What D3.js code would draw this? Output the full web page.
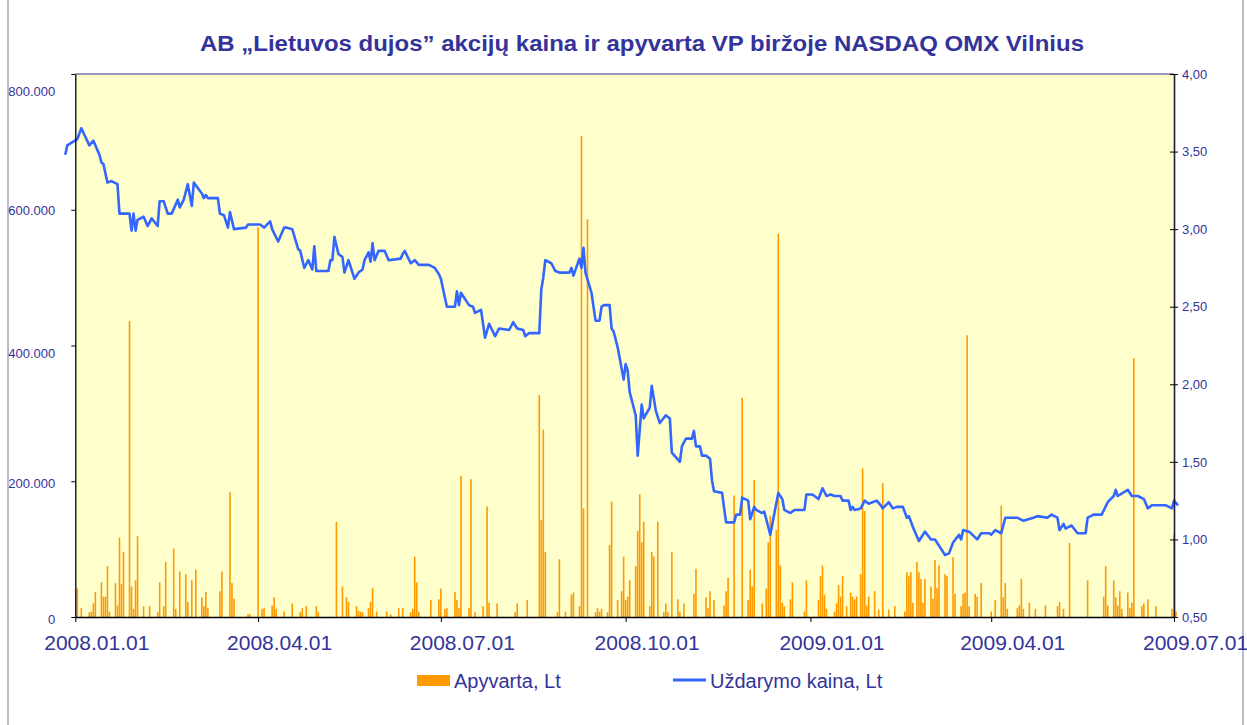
<!DOCTYPE html>
<html>
<head>
<meta charset="utf-8">
<script src="https://cdnjs.cloudflare.com/ajax/libs/d3/7.8.5/d3.min.js"></script>
<style>
  body { margin: 0; background: #fff; }
  svg { display: block; }
  text { font-family: Arial, "Liberation Sans", sans-serif; }
</style>
</head>
<body>
<script>
// closing price, Lt
let priceDates = [
  "2007-12-27","2007-12-28","2008-01-02","2008-01-04","2008-01-08","2008-01-10","2008-01-13","2008-01-14","2008-01-15","2008-01-17",
  "2008-01-19","2008-01-22","2008-01-23","2008-01-28","2008-01-29","2008-01-30","2008-01-31","2008-02-01","2008-02-04","2008-02-06",
  "2008-02-08","2008-02-11","2008-02-12","2008-02-14","2008-02-16","2008-02-18","2008-02-21","2008-02-22","2008-02-24","2008-02-26",
  "2008-02-28","2008-02-29","2008-03-04","2008-03-05","2008-03-06","2008-03-07","2008-03-12","2008-03-13","2008-03-15","2008-03-17",
  "2008-03-18","2008-03-20","2008-03-26","2008-03-27","2008-04-02","2008-04-04","2008-04-07","2008-04-08","2008-04-11","2008-04-14",
  "2008-04-15","2008-04-18","2008-04-21","2008-04-22","2008-04-24","2008-04-26","2008-04-28","2008-04-29","2008-04-30","2008-05-06",
  "2008-05-07","2008-05-08","2008-05-09","2008-05-11","2008-05-13","2008-05-14","2008-05-16","2008-05-19","2008-05-21","2008-05-23",
  "2008-05-24","2008-05-26","2008-05-27","2008-05-28","2008-05-29","2008-05-31","2008-06-03","2008-06-05","2008-06-11","2008-06-12",
  "2008-06-13","2008-06-16","2008-06-18","2008-06-20","2008-06-25","2008-06-28","2008-06-30","2008-07-01","2008-07-04","2008-07-08",
  "2008-07-09","2008-07-10","2008-07-11","2008-07-15","2008-07-17","2008-07-18","2008-07-21","2008-07-23","2008-07-25","2008-07-28",
  "2008-07-30","2008-08-04","2008-08-06","2008-08-08","2008-08-11","2008-08-12","2008-08-14","2008-08-19","2008-08-20","2008-08-21",
  "2008-08-22","2008-08-25","2008-08-27","2008-08-29","2008-09-03","2008-09-04","2008-09-05","2008-09-08","2008-09-09","2008-09-10",
  "2008-09-11","2008-09-14","2008-09-16","2008-09-18","2008-09-19","2008-09-20","2008-09-23","2008-09-24","2008-09-25","2008-09-27",
  "2008-09-30","2008-10-01","2008-10-02","2008-10-03","2008-10-06","2008-10-07","2008-10-09","2008-10-10","2008-10-13","2008-10-14",
  "2008-10-16","2008-10-18","2008-10-21","2008-10-23","2008-10-24","2008-10-28","2008-10-29","2008-10-31","2008-11-03","2008-11-04",
  "2008-11-05","2008-11-07","2008-11-08","2008-11-10","2008-11-12","2008-11-13","2008-11-14","2008-11-18","2008-11-20","2008-11-22",
  "2008-11-24","2008-11-25","2008-11-27","2008-11-28","2008-12-01","2008-12-02","2008-12-04","2008-12-05","2008-12-08","2008-12-09",
  "2008-12-12","2008-12-16","2008-12-18","2008-12-19","2008-12-22","2008-12-24","2008-12-29","2008-12-30","2009-01-02","2009-01-05",
  "2009-01-07","2009-01-09","2009-01-11","2009-01-13","2009-01-16","2009-01-17","2009-01-20","2009-01-21","2009-01-22","2009-01-23",
  "2009-01-26","2009-01-28","2009-01-30","2009-02-03","2009-02-05","2009-02-06","2009-02-09","2009-02-11","2009-02-13","2009-02-16",
  "2009-02-18","2009-02-19","2009-02-21","2009-02-22","2009-02-24","2009-02-27","2009-03-02","2009-03-04","2009-03-07","2009-03-09",
  "2009-03-11","2009-03-13","2009-03-16","2009-03-17","2009-03-18","2009-03-21","2009-03-25","2009-03-27","2009-03-31","2009-04-01",
  "2009-04-03","2009-04-06","2009-04-08","2009-04-14","2009-04-17","2009-04-22","2009-04-24","2009-04-29","2009-05-01","2009-05-04",
  "2009-05-05","2009-05-07","2009-05-08","2009-05-11","2009-05-14","2009-05-18","2009-05-19","2009-05-22","2009-05-26","2009-05-29",
  "2009-06-01","2009-06-02","2009-06-03","2009-06-08","2009-06-10","2009-06-13","2009-06-16","2009-06-18","2009-06-20","2009-06-27",
  "2009-06-30","2009-07-01","2009-07-03"
];
let priceValues = [
  3.48,3.54,3.58,3.65,3.54,3.57,3.48,3.43,3.42,3.30,
  3.31,3.29,3.10,3.10,2.99,3.10,2.99,3.06,3.08,3.02,
  3.07,3.02,3.18,3.18,3.10,3.10,3.19,3.14,3.19,3.29,
  3.15,3.30,3.23,3.20,3.22,3.20,3.20,3.10,3.09,3.01,
  3.11,3.00,3.01,3.03,3.03,3.01,3.05,3.00,2.92,3.01,
  3.01,3.00,2.87,2.86,2.75,2.80,2.74,2.89,2.73,2.73,
  2.80,2.80,2.95,2.84,2.82,2.72,2.80,2.68,2.72,2.74,
  2.80,2.85,2.79,2.91,2.80,2.86,2.86,2.80,2.81,2.84,
  2.86,2.78,2.80,2.77,2.77,2.75,2.71,2.68,2.50,2.50,
  2.60,2.51,2.59,2.51,2.50,2.46,2.48,2.30,2.39,2.31,
  2.36,2.35,2.40,2.36,2.35,2.31,2.33,2.33,2.61,2.69,
  2.80,2.78,2.73,2.72,2.72,2.75,2.70,2.81,2.75,2.88,
  2.72,2.59,2.41,2.41,2.50,2.51,2.51,2.36,2.34,2.24,
  2.03,2.13,2.09,1.95,1.80,1.54,1.87,1.78,1.85,1.99,
  1.83,1.75,1.80,1.78,1.56,1.50,1.60,1.65,1.65,1.70,
  1.60,1.60,1.54,1.54,1.52,1.38,1.31,1.30,1.11,1.11,
  1.11,1.16,1.16,1.27,1.25,1.13,1.21,1.19,1.17,1.18,
  1.03,1.30,1.26,1.19,1.17,1.19,1.19,1.29,1.29,1.26,
  1.33,1.28,1.29,1.28,1.28,1.25,1.25,1.19,1.21,1.19,
  1.20,1.25,1.23,1.25,1.22,1.20,1.24,1.20,1.21,1.21,
  1.14,1.15,1.08,1.05,0.99,1.05,1.00,1.00,0.94,0.90,
  0.91,0.98,1.03,1.00,1.06,1.05,1.00,1.04,1.04,1.03,
  1.06,1.04,1.14,1.14,1.12,1.14,1.15,1.14,1.16,1.14,
  1.06,1.10,1.07,1.09,1.04,1.04,1.14,1.16,1.16,1.24,
  1.28,1.32,1.28,1.32,1.28,1.28,1.26,1.20,1.22,1.22,
  1.20,1.25,1.22
];

// turnover, Lt
let volDates = [
  "2008-01-02","2008-01-04","2008-01-08","2008-01-09","2008-01-10","2008-01-11","2008-01-14","2008-01-15","2008-01-16","2008-01-17",
  "2008-01-18","2008-01-21","2008-01-22","2008-01-23","2008-01-24","2008-01-25","2008-01-28","2008-01-29","2008-01-30","2008-01-31",
  "2008-02-01","2008-02-04","2008-02-07","2008-02-11","2008-02-12","2008-02-14","2008-02-15","2008-02-19","2008-02-20","2008-02-22",
  "2008-02-25","2008-02-26","2008-02-28","2008-03-01","2008-03-04","2008-03-05","2008-03-06","2008-03-07","2008-03-13","2008-03-14",
  "2008-03-18","2008-03-19","2008-03-20","2008-03-27","2008-03-28","2008-04-01","2008-04-03","2008-04-04","2008-04-08","2008-04-09",
  "2008-04-10","2008-04-14","2008-04-18","2008-04-22","2008-04-23","2008-04-25","2008-04-30","2008-05-01","2008-05-10","2008-05-13",
  "2008-05-15","2008-05-16","2008-05-20","2008-05-21","2008-05-22","2008-05-23","2008-05-26","2008-05-27","2008-05-28","2008-05-30",
  "2008-06-04","2008-06-06","2008-06-10","2008-06-12","2008-06-16","2008-06-17","2008-06-18","2008-06-19","2008-06-20","2008-06-26",
  "2008-06-30","2008-07-01","2008-07-03","2008-07-04","2008-07-08","2008-07-09","2008-07-10","2008-07-11","2008-07-15","2008-07-16",
  "2008-07-18","2008-07-22","2008-07-24","2008-07-25","2008-07-29","2008-08-07","2008-08-08","2008-08-13","2008-08-19","2008-08-20",
  "2008-08-21","2008-08-22","2008-08-28","2008-08-29","2008-09-01","2008-09-04","2008-09-05","2008-09-08","2008-09-09","2008-09-10",
  "2008-09-12","2008-09-16","2008-09-17","2008-09-18","2008-09-19","2008-09-22","2008-09-23","2008-09-24","2008-09-27","2008-09-29",
  "2008-09-30","2008-10-01","2008-10-02","2008-10-03","2008-10-06","2008-10-07","2008-10-08","2008-10-09","2008-10-10","2008-10-13",
  "2008-10-14","2008-10-15","2008-10-17","2008-10-20","2008-10-21","2008-10-22","2008-10-24","2008-10-27","2008-10-28","2008-10-30",
  "2008-11-04","2008-11-05","2008-11-10","2008-11-11","2008-11-12","2008-11-14","2008-11-19","2008-11-20","2008-11-21","2008-11-24",
  "2008-11-28","2008-12-01","2008-12-02","2008-12-03","2008-12-04","2008-12-08","2008-12-10","2008-12-11","2008-12-12","2008-12-15",
  "2008-12-16","2008-12-17","2008-12-18","2008-12-19","2008-12-22","2008-12-23","2008-12-29","2008-12-30","2009-01-05","2009-01-06",
  "2009-01-07","2009-01-08","2009-01-09","2009-01-13","2009-01-14","2009-01-15","2009-01-16","2009-01-17","2009-01-19","2009-01-21",
  "2009-01-22","2009-01-23","2009-01-24","2009-01-26","2009-01-27","2009-01-28","2009-01-29","2009-01-30","2009-02-02","2009-02-04",
  "2009-02-06","2009-02-09","2009-02-12","2009-02-17","2009-02-18","2009-02-19","2009-02-20","2009-02-21","2009-02-23","2009-02-24",
  "2009-02-25","2009-02-26","2009-02-27","2009-03-02","2009-03-03","2009-03-04","2009-03-05","2009-03-06","2009-03-09","2009-03-10",
  "2009-03-13","2009-03-14","2009-03-17","2009-03-18","2009-03-19","2009-03-20","2009-03-21","2009-03-24","2009-03-25","2009-03-27",
  "2009-04-01","2009-04-03","2009-04-06","2009-04-07","2009-04-08","2009-04-09","2009-04-14","2009-04-15","2009-04-16","2009-04-17",
  "2009-04-20","2009-04-23","2009-04-28","2009-05-04","2009-05-05","2009-05-07","2009-05-10","2009-05-19","2009-05-27","2009-05-28",
  "2009-05-29","2009-06-01","2009-06-02","2009-06-03","2009-06-04","2009-06-05","2009-06-08","2009-06-09","2009-06-10","2009-06-11",
  "2009-06-15","2009-06-16","2009-06-18","2009-06-22","2009-06-30","2009-07-01","2009-07-02"
];
let volValues = [
  42000,13000,7000,8000,20000,37000,51000,30000,30000,75000,
  8000,50000,17000,117000,49000,96000,436000,45000,12000,54000,
  119000,16000,16000,7000,51000,16000,81000,101000,12000,67000,
  63000,22000,54000,70000,29000,16000,37000,13000,38000,67000,
  184000,50000,27000,4000,4000,574000,12000,13000,17000,29000,
  12000,8000,20000,7000,13000,16000,16000,7000,140000,45000,
  29000,22000,16000,9000,8000,7000,13000,22000,43000,8000,
  8000,4000,13000,13000,7000,12000,89000,51000,8000,25000,
  26000,42000,12000,13000,37000,25000,13000,208000,13000,203000,
  7000,16000,163000,21000,20000,7000,20000,25000,327000,143000,
  276000,96000,7000,85000,8000,33000,36000,16000,709000,160000,
  586000,7000,13000,8000,12000,7000,106000,170000,25000,38000,
  89000,25000,30000,54000,75000,127000,181000,110000,140000,16000,
  96000,89000,140000,7000,20000,7000,96000,26000,8000,20000,
  34000,71000,29000,13000,38000,25000,17000,38000,58000,179000,
  323000,25000,70000,45000,202000,20000,42000,110000,149000,128000,
  565000,76000,21000,16000,26000,51000,8000,54000,25000,60000,
  76000,33000,12000,8000,20000,47000,30000,60000,16000,36000,
  30000,26000,30000,63000,219000,156000,17000,30000,38000,11000,
  197000,11000,16000,8000,66000,60000,66000,21000,81000,66000,
  56000,21000,56000,45000,27000,84000,43000,76000,63000,60000,
  88000,34000,16000,34000,36000,415000,16000,34000,30000,50000,
  8000,25000,164000,29000,50000,12000,13000,17000,56000,12000,
  21000,12000,17000,16000,22000,12000,109000,54000,30000,75000,
  17000,54000,29000,17000,38000,12000,36000,13000,21000,381000,
  16000,20000,26000,16000,12000,121000,8000
];

let volTicks = [0, 200000, 400000, 600000, 800000];
let priceTicks = [0.5, 1.0, 1.5, 2.0, 2.5, 3.0, 3.5, 4.0];
let dateTicks = ["2008-01-01","2008-04-01","2008-07-01","2008-10-01","2009-01-01","2009-04-01","2009-07-01"];

let title = "AB „Lietuvos dujos” akcijų kaina ir apyvarta VP biržoje NASDAQ OMX Vilnius";
let legendNames = ["Apyvarta, Lt", "Uždarymo kaina, Lt"];

// ---- drawing ----
const W = 1247, H = 725;
const plot = {left: 75.3, right: 1174, top: 74, bottom: 617};
const textColor = "#333399";
const parse = d3.utcParse("%Y-%m-%d");

let x = d3.scaleUtc()
  .domain([parse(dateTicks[0]), parse(dateTicks[dateTicks.length - 1])])
  .range([plot.left, plot.right]);
let yVol = d3.scaleLinear().domain([0, 800000]).range([plot.bottom, plot.top]);
let yPrice = d3.scaleLinear().domain([0.5, 4]).range([plot.bottom, plot.top]);

let svg = d3.select("body").append("svg")
  .attr("width", W)
  .attr("height", H);

// outer frame (only the sides show in the picture)
svg.append("line").attr("x1", 8).attr("x2", 8).attr("y1", 0).attr("y2", H)
  .attr("stroke", "#a3a3b8").attr("stroke-width", 1.5);
svg.append("line").attr("x1", 1243).attr("x2", 1243).attr("y1", 0).attr("y2", H)
  .attr("stroke", "#a3a3b8").attr("stroke-width", 1.5);

// title
svg.append("text")
  .attr("x", 642).attr("y", 51)
  .attr("text-anchor", "middle")
  .attr("font-size", 22).attr("font-weight", "bold")
  .attr("textLength", 884).attr("lengthAdjust", "spacingAndGlyphs")
  .attr("fill", textColor)
  .text(title);

// plot background
svg.append("rect")
  .attr("x", plot.left).attr("y", plot.top)
  .attr("width", plot.right - plot.left).attr("height", plot.bottom - plot.top)
  .attr("fill", "#ffffcc");

// bars
let vols = volDates.map((d, i) => ({date: parse(d), value: volValues[i]}));
svg.append("g").selectAll("rect")
  .data(vols)
  .join("rect")
  .attr("x", d => x(d.date) - 0.8)
  .attr("width", 1.6)
  .attr("y", d => yVol(d.value))
  .attr("height", d => yVol(0) - yVol(d.value))
  .attr("fill", "#ff9900");

// price line
let prices = priceDates.map((d, i) => ({date: parse(d), value: priceValues[i]}));
let valueline = d3.line()
  .x(d => x(d.date))
  .y(d => yPrice(d.value));
svg.append("path")
  .datum(prices)
  .attr("d", valueline)
  .attr("fill", "none")
  .attr("stroke", "#3366ff")
  .attr("stroke-width", 2.6)
  .attr("stroke-linejoin", "round");

// top border of the plot
svg.append("line")
  .attr("x1", plot.left).attr("x2", plot.right)
  .attr("y1", plot.top).attr("y2", plot.top)
  .attr("stroke", "#333388").attr("stroke-width", 1.2);

// left axis
let fmtVol = v => d3.format(",")(v).replace(/,/g, ".");
let labelNudge = {0: 2, 200000: 2, 400000: 8, 600000: 1, 800000: 17};
let gLeft = svg.append("g")
  .attr("transform", "translate(" + plot.left + ",0)")
  .call(d3.axisLeft(yVol).tickValues(volTicks).tickFormat(fmtVol).tickSize(4).tickSizeOuter(0).tickPadding(16));
gLeft.select(".domain").attr("stroke", "#000").attr("stroke-width", 1.3);
gLeft.selectAll(".tick line").attr("stroke", "#000");
gLeft.selectAll(".tick text")
  .attr("fill", textColor).attr("font-size", 13)
  .attr("font-family", "Arial, 'Liberation Sans', sans-serif")
  .attr("dy", d => (0.32 * 13 + labelNudge[d]) + "px");

// right axis
let fmtPrice = v => d3.format(".2f")(v).replace(".", ",");
let gRight = svg.append("g")
  .attr("transform", "translate(" + plot.right + ",0)")
  .call(d3.axisRight(yPrice).tickValues(priceTicks).tickFormat(fmtPrice).tickSize(4).tickSizeOuter(0).tickPadding(4));
gRight.select(".domain").attr("stroke", "#1a1a3a").attr("stroke-width", 1.6);
gRight.selectAll(".tick line").attr("x1", -4).attr("stroke", "#000");
gRight.selectAll(".tick text")
  .attr("fill", textColor).attr("font-size", 13)
  .attr("font-family", "Arial, 'Liberation Sans', sans-serif");

// bottom axis (labels sit a little right of their ticks, as in the original)
let gBottom = svg.append("g")
  .attr("transform", "translate(0," + plot.bottom + ")")
  .call(d3.axisBottom(x).tickValues(dateTicks.map(parse)).tickFormat(d3.utcFormat("%Y.%m.%d")).tickSize(5).tickSizeOuter(0).tickPadding(13));
gBottom.select(".domain").attr("stroke", "#000").attr("stroke-width", 1.6);
gBottom.selectAll(".tick line").attr("stroke", "#000");
gBottom.selectAll(".tick text")
  .attr("fill", textColor).attr("font-size", 21)
  .attr("dx", 21)
  .attr("font-family", "Arial, 'Liberation Sans', sans-serif");

// legend
let legend = svg.append("g");
legend.append("rect")
  .attr("x", 417).attr("y", 675).attr("width", 33).attr("height", 11)
  .attr("fill", "#ff9900");
legend.append("text")
  .attr("x", 454).attr("y", 688)
  .attr("font-size", 20).attr("fill", textColor)
  .text(legendNames[0]);
legend.append("line")
  .attr("x1", 673).attr("x2", 706).attr("y1", 680).attr("y2", 680)
  .attr("stroke", "#3366ff").attr("stroke-width", 3);
legend.append("text")
  .attr("x", 710).attr("y", 688)
  .attr("font-size", 20).attr("fill", textColor)
  .text(legendNames[1]);
</script>
</body>
</html>
